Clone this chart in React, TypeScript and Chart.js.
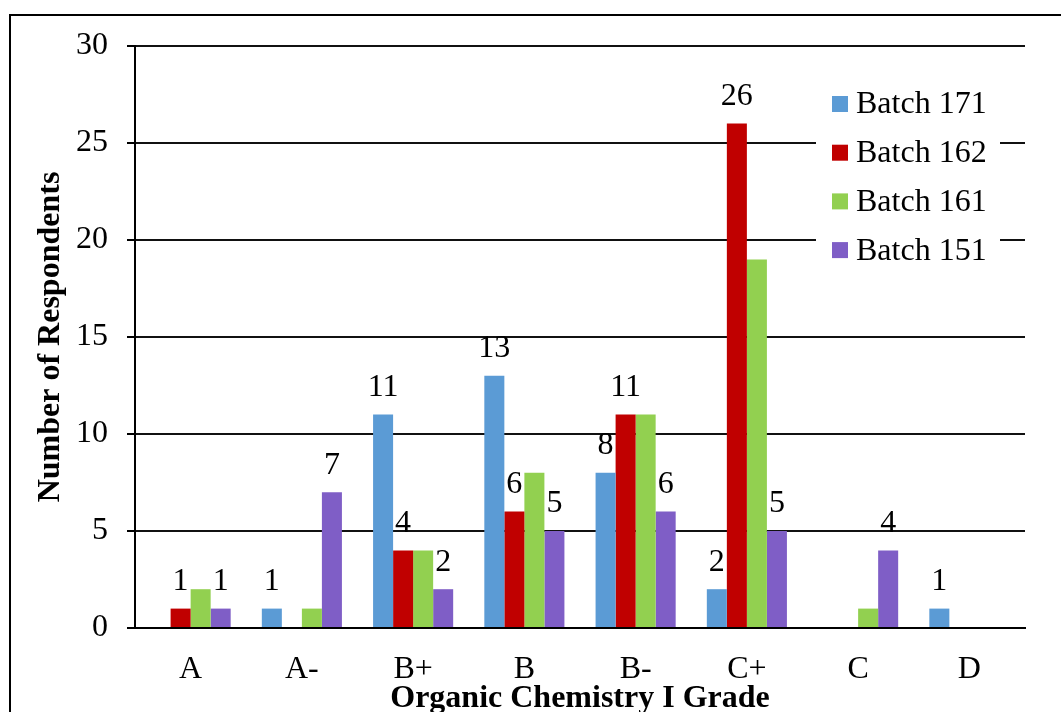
import React, { useEffect, useRef } from 'react';
import { Chart, registerables } from 'chart.js';

Chart.register(...registerables);

const grades = ['A', 'A-', 'B+', 'B', 'B-', 'C+', 'C', 'D'];
const seriesNames = ['Batch 171', 'Batch 162', 'Batch 161', 'Batch 151'];
const batch171 = [0, 1, 11, 13, 8, 2, 0, 1];
const batch162 = [1, 0, 4, 6, 11, 26, 0, 0];
const batch161 = [2, 1, 4, 8, 11, 19, 1, 0];
const batch151 = [1, 7, 2, 5, 6, 5, 4, 0];
// value labels shown in the original (null = no label)
const labels171 = [null, 1, 11, 13, 8, 2, null, 1];
const labels162 = [1, null, 4, 6, 11, 26, null, null];
const labels161 = [null, null, null, null, null, null, null, null];
const labels151 = [1, 7, 2, 5, 6, 5, 4, null];
const seriesColors = ['#5B9BD5', '#C00000', '#92D050', '#7F5EC6'];
const yMin = 0;
const yMax = 30;
const yStep = 5;
const xTitle = 'Organic Chemistry I Grade';
const yTitle = 'Number of Respondents';

const FONT = '"Liberation Serif", "Times New Roman", serif';

const frameLabelsPlugin = {
  id: 'frameLabels',
  beforeDraw(chart: any) {
    const ctx = chart.ctx;
    ctx.save();
    ctx.fillStyle = '#fff';
    ctx.fillRect(0, 0, chart.width, chart.height);
    ctx.strokeStyle = '#000';
    ctx.lineWidth = 2;
    ctx.strokeRect(10, 15, chart.width + 50, chart.height + 50);
    ctx.restore();
  },
  afterDatasetsDraw(chart: any) {
    const ctx = chart.ctx;
    ctx.save();
    ctx.fillStyle = '#000';
    ctx.font = `32px ${FONT}`;
    ctx.textAlign = 'center';
    ctx.textBaseline = 'middle';
    chart.data.datasets.forEach((ds: any, i: number) => {
      const meta = chart.getDatasetMeta(i);
      meta.data.forEach((bar: any, j: number) => {
        const v = ds.valueLabels[j];
        if (v === null || v === undefined) return;
        ctx.fillText(String(v), bar.x, bar.y - 27);
      });
    });
    ctx.restore();
  },
  afterDraw(chart: any) {
    const ctx = chart.ctx;
    ctx.save();
    ctx.fillStyle = '#fff';
    ctx.fillRect(816, 76, 184, 198);
    ctx.font = `32px ${FONT}`;
    ctx.textAlign = 'left';
    ctx.textBaseline = 'middle';
    chart.data.datasets.forEach((ds: any, i: number) => {
      const cy = 104 + i * 48.7;
      ctx.fillStyle = ds.backgroundColor;
      ctx.fillRect(832, cy - 8, 16, 16);
      ctx.fillStyle = '#000';
      ctx.fillText(ds.label, 856, cy + 1);
    });
    ctx.restore();
  },
};

export default function App() {
  const ref = useRef<HTMLCanvasElement | null>(null);

  useEffect(() => {
    if (!ref.current) return;
    const seriesValues = [batch171, batch162, batch161, batch151];
    const seriesLabels = [labels171, labels162, labels161, labels151];
    const chart = new Chart(ref.current, {
      type: 'bar',
      data: {
        labels: grades,
        datasets: seriesNames.map((name, i) => ({
          label: name,
          data: seriesValues[i],
          backgroundColor: seriesColors[i],
          borderWidth: 0,
          categoryPercentage: 0.72,
          barPercentage: 1,
          valueLabels: seriesLabels[i],
        })) as any,
      },
      options: {
        responsive: false,
        animation: false,
        devicePixelRatio: 1,
        layout: { padding: { left: 0, top: 46, right: 36, bottom: 0 } },
        plugins: {
          legend: { display: false },
          tooltip: { enabled: false },
        },
        scales: {
          x: {
            grid: { display: false },
            border: { display: true, color: '#000', width: 2 },
            ticks: { color: '#000', font: { family: FONT, size: 32 }, padding: 14 },
            title: {
              display: true,
              text: xTitle,
              color: '#000',
              font: { family: FONT, size: 32, weight: 'bold' },
              padding: { top: 0, bottom: 22 },
            },
            afterFit: (s: any) => { s.height = 112; },
          },
          y: {
            min: yMin,
            max: yMax,
            grid: { color: '#111', lineWidth: 2, tickLength: 8, tickColor: '#000' },
            border: { display: true, color: '#000', width: 2 },
            ticks: { stepSize: yStep, color: '#000', font: { family: FONT, size: 32 }, padding: 19 },
            title: {
              display: true,
              text: yTitle,
              color: '#000',
              font: { family: FONT, size: 32, weight: 'bold' },
              padding: { top: 32, bottom: 0 },
            },
            afterFit: (s: any) => { s.width = 135; },
          },
        },
      } as any,
      plugins: [frameLabelsPlugin],
    });
    return () => chart.destroy();
  }, []);

  return (
    <div style={{ position: 'fixed', left: 0, top: 0, width: 1061, height: 712, overflow: 'hidden', background: '#fff' }}>
      <canvas ref={ref} width={1061} height={740} style={{ display: 'block' }} />
    </div>
  );
}
